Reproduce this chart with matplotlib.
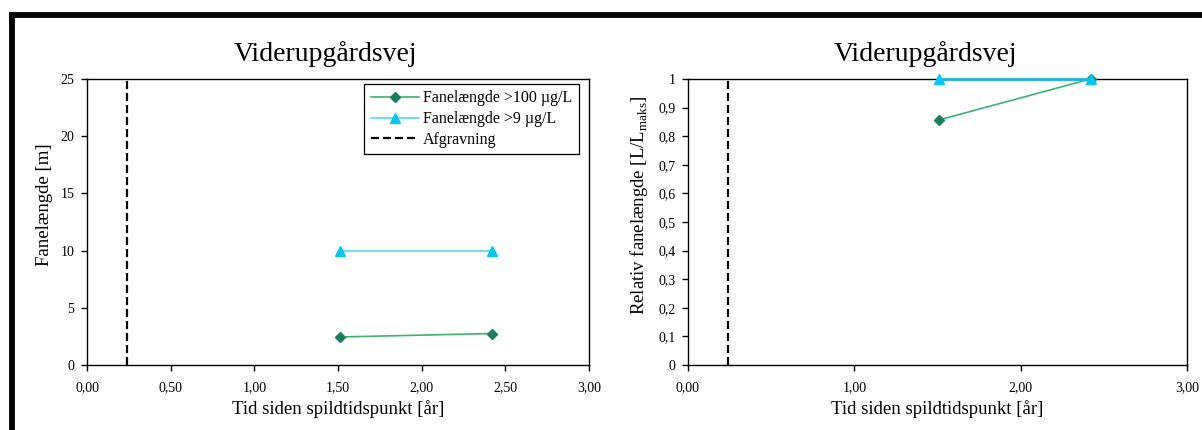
import numpy as np
import matplotlib
matplotlib.use("Agg")
import matplotlib.pyplot as plt
from matplotlib.lines import Line2D

plt.rcParams['font.family'] = ['Liberation Serif', 'DejaVu Serif']
plt.rcParams['mathtext.fontset'] = 'custom'
plt.rcParams['mathtext.rm'] = 'Liberation Serif'

# data
titel = 'Viderupgårdsvej'
tid = [1.51, 2.42]
fane_100 = [2.45, 2.75]
fane_9 = [10.0, 10.0]
rel_100 = [0.857, 1.0]
rel_9 = [1.0, 1.0]
afgravning = 0.24

xticks_venstre = [0, 0.5, 1.0, 1.5, 2.0, 2.5, 3.0]
xticks_hoejre = [0, 1.0, 2.0, 3.0]
yticks_venstre = [0, 5, 10, 15, 20, 25]
yticks_hoejre = [0, 0.1, 0.2, 0.3, 0.4, 0.5, 0.6, 0.7, 0.8, 0.9, 1.0]
ylabels_hoejre = ['0', '0,1', '0,2', '0,3', '0,4', '0,5', '0,6', '0,7', '0,8', '0,9', '1']

groen_linje = '#3cb371'
groen_mark = '#1a7f5f'
cyan_linje = '#55d8ff'
cyan_mark = '#00c8f0'
streg = (0, (3.6, 1.8))

fig = plt.figure(figsize=(12.02, 4.30), dpi=100)

ax1 = fig.add_axes([87/1202, 65/430, 502/1202, 286/430])
ax2 = fig.add_axes([688/1202, 65/430, 499/1202, 286/430])


def opsaet(ax, xt, yt, ylab, ylab_x):
    ax.set_xlim(0, 3)
    ax.set_xticks(xt)
    ax.set_xticklabels([('%.2f' % v).replace('.', ',') for v in xt])
    ax.set_yticks(yt)
    ax.tick_params(direction='out', length=4, width=1, labelsize=10, pad=5)
    ax.tick_params(axis='x', pad=8)
    ax.set_xlabel('Tid siden spildtidspunkt [år]', fontsize=13.5, labelpad=4)
    ax.set_ylabel(ylab, fontsize=13.5)
    ax.yaxis.set_label_coords(ylab_x, 0.56)
    ax.set_title(titel, fontsize=20, pad=13, x=0.475)
    for s in ax.spines.values():
        s.set_linewidth(1.0)


# venstre graf
ax1.axvline(afgravning, color='black', ls=streg, lw=1.6, label='Afgravning')
ax1.plot(tid, fane_100, color=groen_linje, lw=1.2, marker='D', ms=5,
         mfc=groen_mark, mec=groen_mark, label='Fanelængde >100 µg/L')
ax1.plot(tid, fane_9, color=cyan_linje, lw=1.2, marker='^', ms=7,
         mfc=cyan_mark, mec=cyan_mark, label='Fanelængde >9 µg/L')
ax1.set_ylim(0, 25)
opsaet(ax1, xticks_venstre, yticks_venstre, 'Fanelængde [m]', -0.068)

h, l = ax1.get_legend_handles_labels()
leg = ax1.legend(h[1:] + h[:1], l[1:] + l[:1], loc='upper right',
                 bbox_to_anchor=(0.98, 0.9825), borderaxespad=0,
                 fontsize=11.5, fancybox=False, framealpha=1, edgecolor='black',
                 handlelength=3.0, borderpad=0.4, labelspacing=0.3,
                 handletextpad=0.3)
leg.get_frame().set_linewidth(0.9)

# hoejre graf
ax2.axvline(afgravning, color='black', ls=streg, lw=1.6)
ax2.plot(tid, rel_100, color=groen_linje, lw=1.2, marker='D', ms=5,
         mfc=groen_mark, mec=groen_mark, clip_on=False, zorder=3)
ax2.plot(tid, rel_9, color='#1eb4e0', lw=2, marker='^', ms=7,
         mfc=cyan_mark, mec=cyan_mark, clip_on=False, zorder=3)
ax2.set_ylim(0, 1)
opsaet(ax2, xticks_hoejre, yticks_hoejre,
       r'Relativ fanelængde [L/L$_{\mathrm{maks}}$]', -0.076)
ax2.set_yticklabels(ylabels_hoejre)

# sort ramme (venstre og top)
fig.add_artist(Line2D([11.5/1202, 11.5/1202], [0, 1 - 12/430], color='black', lw=4.2,
                      transform=fig.transFigure, solid_capstyle='butt'))
fig.add_artist(Line2D([9/1202, 1], [1 - 14.5/430, 1 - 14.5/430], color='black', lw=4.2,
                      transform=fig.transFigure, solid_capstyle='butt'))

fig.savefig('out.png', dpi=100)
